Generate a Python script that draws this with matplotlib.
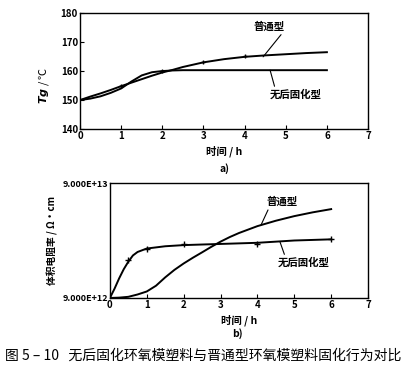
import matplotlib
matplotlib.use("Agg")
import matplotlib.pyplot as plt
from matplotlib.ticker import FixedLocator, NullLocator

plt.rcParams['font.family'] = ['Noto Sans CJK SC', 'DejaVu Sans']
plt.rcParams['font.weight'] = 'bold'

# ---- data (a): glass transition temperature Tg vs time ----
t_a = [0, 0.25, 0.5, 0.75, 1, 1.25, 1.5, 1.75, 2, 2.25, 2.5, 3, 3.5, 4, 4.5, 5, 5.5, 6]
tg_normal = [150, 151.2, 152.3, 153.5, 154.8, 156.0, 157.2, 158.4, 159.5, 160.4, 161.4, 163.0, 164.1, 164.9, 165.4, 165.8, 166.2, 166.5]
tg_nopost = [150, 150.5, 151.3, 152.5, 154.0, 156.4, 158.5, 159.6, 160.0, 160.2, 160.3, 160.3, 160.3, 160.3, 160.3, 160.3, 160.3, 160.3]
t_a_pts = [1, 2, 3, 4]
tg_pts = [155, 160, 163, 165.2]

# ---- data (b): volume resistivity (x1e13 ohm*cm) vs time ----
t_b_normal = [0, 0.25, 0.5, 0.75, 1, 1.25, 1.5, 1.75, 2, 2.25, 2.5, 2.75, 3, 3.25, 3.5, 4, 4.5, 5, 5.5, 6]
rho_normal = [0.90, 0.906, 0.921, 0.965, 1.025, 1.15, 1.36, 1.58, 1.796, 2.015, 2.245, 2.507, 2.781, 3.049, 3.306, 3.795, 4.229, 4.637, 5.003, 5.336]
t_b_nopost = [0, 0.125, 0.25, 0.375, 0.5, 0.625, 0.75, 1, 1.5, 2, 2.5, 3, 3.5, 4, 4.5, 5, 5.5, 6]
rho_nopost = [0.90, 1.082, 1.331, 1.600, 1.863, 2.110, 2.261, 2.423, 2.536, 2.595, 2.626, 2.656, 2.687, 2.718, 2.781, 2.846, 2.879, 2.913]
t_b_pts = [0.5, 1, 2, 4, 6]
rho_pts = [1.92, 2.40, 2.66, 2.63, 2.91]

label_normal = "普通型"
label_nopost = "无后固化型"
xlabel = "时间 / h"
caption = "图 5 – 10   无后固化环氧模塑料与晋通型环氧模塑料固化行为对比"

fig = plt.figure(figsize=(4.04, 3.72), dpi=100)
lw = 1.4
tickfs = 7

# ---------- (a) ----------
ax1 = fig.add_axes([0.198, 0.653, 0.713, 0.312])
ax1.plot(t_a, tg_normal, color='black', lw=lw)
ax1.plot(t_a, tg_nopost, color='black', lw=lw)
ax1.plot(t_a_pts, tg_pts, ls='none', marker='+', ms=3.5, mew=1, color='black')
ax1.set_xlim(0, 7)
ax1.set_ylim(140, 180)
ax1.set_xticks(range(0, 8))
ax1.set_yticks([140, 150, 160, 170, 180])
ax1.tick_params(direction='in', length=3, labelsize=tickfs, pad=1.5)
ax1.set_xlabel(xlabel, fontsize=7.5, fontweight='bold', labelpad=3)
ax1.set_ylabel(r"$Tg$ / ℃", fontsize=8, labelpad=2)
ax1.yaxis.set_label_coords(-0.1, 0.38)
ax1.annotate(label_normal, xy=(4.45, 164.9), xytext=(4.6, 173.5),
             ha='center', va='bottom', fontsize=7.5, fontweight='bold',
             arrowprops=dict(arrowstyle='-', color='black', lw=0.8, shrinkA=0, shrinkB=0,
                             relpos=(0.95, 0.0)))
ax1.annotate(label_nopost, xy=(4.62, 160.3), xytext=(5.25, 152),
             ha='center', va='center', fontsize=7.5, fontweight='bold',
             arrowprops=dict(arrowstyle='-', color='black', lw=0.8, shrinkA=0, shrinkB=0,
                             relpos=(0.1, 1.0)))
for s in ax1.spines.values():
    s.set_linewidth(1.0)

fig.text(0.555, 0.548, "a)", ha='center', va='center', fontsize=7.5, fontweight='bold')

# ---------- (b) ----------
ax2 = fig.add_axes([0.272, 0.199, 0.639, 0.309])
ax2.plot(t_b_normal, rho_normal, color='black', lw=lw)
ax2.plot(t_b_nopost, rho_nopost, color='black', lw=lw)
ax2.plot(t_b_pts, rho_pts, ls='none', marker='+', ms=4, mew=1, color='black')
ax2.set_yscale('log')
ax2.set_xlim(0, 7)
ax2.set_ylim(0.9, 9.0)
ax2.set_xticks(range(0, 8))
ax2.yaxis.set_major_locator(FixedLocator([0.9, 9.0]))
ax2.yaxis.set_minor_locator(NullLocator())
ax2.set_yticklabels(["9.000E+12", "9.000E+13"])
ax2.tick_params(axis='x', direction='in', length=3, labelsize=tickfs, pad=1.5)
ax2.tick_params(axis='y', direction='in', length=0, labelsize=6.5, pad=1)
ax2.set_xlabel(xlabel, fontsize=7.5, fontweight='bold', labelpad=3)
ax2.set_ylabel("体积电阻率 / Ω·cm", fontsize=7, fontweight='bold', labelpad=3)
ax2.yaxis.set_label_coords(-0.2, 0.5)
ax2.annotate(label_normal, xy=(4.1, 0.9 * 10 ** 0.636), xytext=(4.66, 0.9 * 10 ** 0.79),
             ha='center', va='bottom', fontsize=7.5, fontweight='bold',
             arrowprops=dict(arrowstyle='-', color='black', lw=0.8, shrinkA=0, shrinkB=0,
                             relpos=(0.1, 0.0)))
ax2.annotate(label_nopost, xy=(4.61, 0.9 * 10 ** 0.49), xytext=(5.25, 0.9 * 10 ** 0.31),
             ha='center', va='center', fontsize=7.5, fontweight='bold',
             arrowprops=dict(arrowstyle='-', color='black', lw=0.8, shrinkA=0, shrinkB=0,
                             relpos=(0.15, 1.0)))
for s in ax2.spines.values():
    s.set_linewidth(1.0)

fig.text(0.587, 0.102, "b)", ha='center', va='center', fontsize=7.5, fontweight='bold')

fig.text(0.012, 0.045, caption, ha='left', va='center', fontsize=10, fontweight='normal')

fig.savefig("out.png", dpi=100, facecolor='white')
